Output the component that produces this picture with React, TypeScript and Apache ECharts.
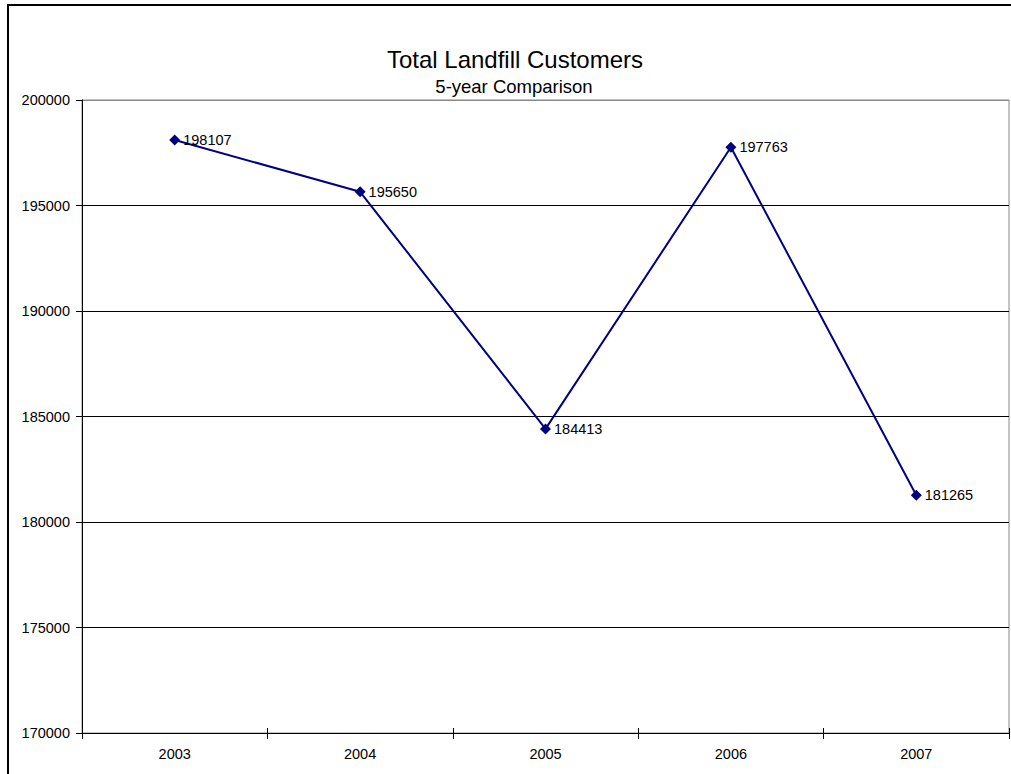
import React, { useEffect, useRef } from "react";
import * as echarts from "echarts";

const years = ["2003", "2004", "2005", "2006", "2007"];
const customers = [198107, 195650, 184413, 197763, 181265];
const yMin = 170000;
const yMax = 200000;
const yStep = 5000;
const chartTitle = "Total Landfill Customers";
const chartSubtitle = "5-year Comparison";

export default function App() {
  const ref = useRef<HTMLDivElement>(null);
  useEffect(() => {
    if (!ref.current) return;
    const chart = echarts.init(ref.current, null, { renderer: "svg" });
    const font = "Arial, 'Liberation Sans', sans-serif";
    chart.setOption({
      animation: false,
      backgroundColor: "#fff",
      textStyle: { fontFamily: font },
      title: [
        {
          text: chartTitle,
          left: 515,
          textAlign: "center",
          top: 47,
          padding: 0,
          textStyle: { fontFamily: font, fontSize: 24, fontWeight: "normal", color: "#000" },
        },
        {
          text: chartSubtitle,
          left: 514,
          textAlign: "center",
          top: 77,
          padding: 0,
          textStyle: { fontFamily: font, fontSize: 18.5, fontWeight: "normal", color: "#000" },
        },
      ],
      graphic: [
        {
          type: "rect",
          shape: { x: 8, y: 5, width: 1100, height: 900 },
          style: { fill: "none", stroke: "#000", lineWidth: 2 },
          silent: true,
          z: 100,
        },
      ],
      grid: {
        left: 82,
        right: 2,
        top: 100,
        bottom: 41,
        show: true,
        borderColor: "#888",
        borderWidth: 1,
        backgroundColor: "transparent",
      },
      xAxis: [
        {
          type: "category",
          data: years,
          boundaryGap: true,
          axisLine: { lineStyle: { color: "#000", width: 1 } },
          axisTick: { show: true, length: 6, inside: false, lineStyle: { color: "#000" } },
          axisLabel: { color: "#000", fontSize: 14.5, margin: 13, fontFamily: font },
        },
        {
          type: "category",
          data: years,
          position: "bottom",
          boundaryGap: true,
          axisLine: { show: false },
          axisTick: { show: true, length: 5, inside: true, lineStyle: { color: "#000" } },
          axisLabel: { show: false },
          splitLine: { show: false },
        },
      ],
      yAxis: {
        type: "value",
        min: yMin,
        max: yMax,
        interval: yStep,
        axisLine: { show: true, lineStyle: { color: "#000", width: 1 } },
        axisTick: { show: true, length: 6, lineStyle: { color: "#000" } },
        axisLabel: {
          color: "#000",
          fontSize: 14.5,
          margin: 12,
          fontFamily: font,
          formatter: (v: number) => String(v),
        },
        splitLine: {
          show: true,
          lineStyle: {
            color: ["#000", "#000", "#000", "#000", "#000", "#000", "#888"],
            width: 1,
          },
        },
      },
      series: [
        {
          type: "line",
          xAxisIndex: 0,
          data: customers,
          symbol: "diamond",
          symbolSize: 11,
          itemStyle: { color: "#000080" },
          lineStyle: { color: "#000080", width: 2 },
          label: {
            show: true,
            position: "right",
            distance: 3,
            color: "#000",
            fontSize: 14.5,
            fontFamily: font,
          },
        },
      ],
    });
    return () => chart.dispose();
  }, []);
  return (
    <div
      ref={ref}
      style={{ position: "absolute", left: 0, top: 0, width: 1011, height: 774 }}
    />
  );
}
